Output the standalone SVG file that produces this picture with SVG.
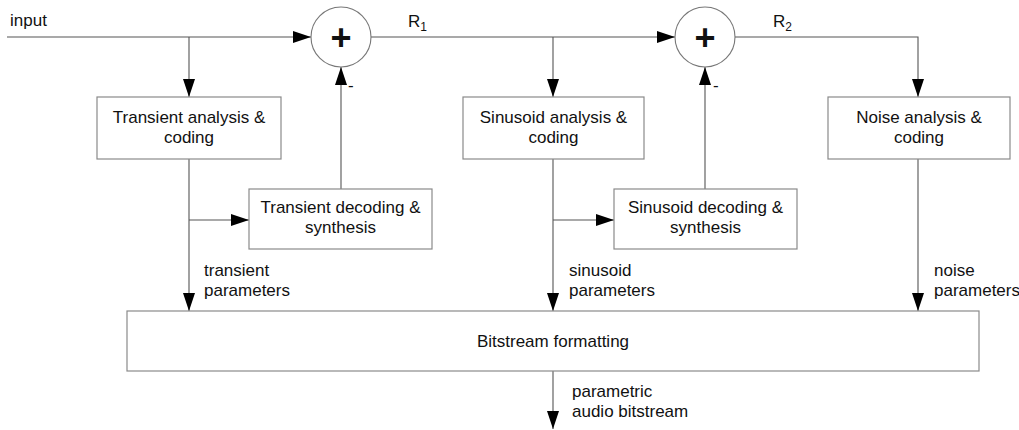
<svg xmlns="http://www.w3.org/2000/svg" width="1019" height="430" viewBox="0 0 1019 430">
<defs>
<style>
text{font-family:"Liberation Sans",Arial,sans-serif;font-size:17px;fill:#111}
.c{text-anchor:middle}
.box{fill:#fff;stroke:#8a8a8a;stroke-width:1.2}
.ln{fill:none;stroke:#555;stroke-width:1.1}
.plus{font-size:36px;font-weight:bold;text-anchor:middle}
.sum{fill:#fff;stroke:#777;stroke-width:1.1}
</style>
<marker id="ah" markerUnits="userSpaceOnUse" markerWidth="18" markerHeight="12" refX="18" refY="6" orient="auto">
<path d="M0,0 L18,6 L0,12 z" fill="#000"/>
</marker>
</defs>
<g id="connectors">
<path class="ln" d="M7,37 H311" marker-end="url(#ah)"/>
<path class="ln" d="M189,37 V97" marker-end="url(#ah)"/>
<path class="ln" d="M189,159 V311" marker-end="url(#ah)"/>
<path class="ln" d="M189,220 H249" marker-end="url(#ah)"/>
<path class="ln" d="M341,189 V67" marker-end="url(#ah)"/>
<path class="ln" d="M371,37 H675" marker-end="url(#ah)"/>
<path class="ln" d="M553,37 V97" marker-end="url(#ah)"/>
<path class="ln" d="M553,159 V311" marker-end="url(#ah)"/>
<path class="ln" d="M553,220 H614" marker-end="url(#ah)"/>
<path class="ln" d="M705,189 V67" marker-end="url(#ah)"/>
<path class="ln" d="M735,37 H918 V97" marker-end="url(#ah)"/>
<path class="ln" d="M918,159 V311" marker-end="url(#ah)"/>
<path class="ln" d="M553,371 V429" marker-end="url(#ah)"/>
<text x="10" y="26">input</text>
<text x="408" y="27">R<tspan font-size="12" dy="4">1</tspan></text>
<text x="773" y="27">R<tspan font-size="12" dy="4">2</tspan></text>
<text x="348" y="91">-</text>
<text x="713" y="91">-</text>
<text x="204" y="276">transient</text>
<text x="204" y="296">parameters</text>
<text x="569" y="276">sinusoid</text>
<text x="569" y="296">parameters</text>
<text x="934" y="276">noise</text>
<text x="934" y="296">parameters</text>
<text x="572" y="397">parametric</text>
<text x="572" y="417">audio bitstream</text>
</g>
<g id="sum1">
<circle class="sum" cx="341" cy="37" r="30"/>
<text class="plus" x="341" y="50">+</text>
</g>
<g id="sum2">
<circle class="sum" cx="705" cy="37" r="30"/>
<text class="plus" x="705" y="50">+</text>
</g>
<g id="transient-analysis">
<rect class="box" x="97" y="97" width="184" height="62"/>
<text class="c" x="189" y="123">Transient analysis &amp;</text>
<text class="c" x="189" y="143">coding</text>
</g>
<g id="transient-decoding">
<rect class="box" x="249" y="189" width="183" height="60"/>
<text class="c" x="340.5" y="213">Transient decoding &amp;</text>
<text class="c" x="340.5" y="233">synthesis</text>
</g>
<g id="sinusoid-analysis">
<rect class="box" x="463" y="97" width="181" height="62"/>
<text class="c" x="553.5" y="123">Sinusoid analysis &amp;</text>
<text class="c" x="553.5" y="143">coding</text>
</g>
<g id="sinusoid-decoding">
<rect class="box" x="614" y="189" width="183" height="60"/>
<text class="c" x="705.5" y="213">Sinusoid decoding &amp;</text>
<text class="c" x="705.5" y="233">synthesis</text>
</g>
<g id="noise-analysis">
<rect class="box" x="828" y="97" width="182" height="62"/>
<text class="c" x="919" y="123">Noise analysis &amp;</text>
<text class="c" x="919" y="143">coding</text>
</g>
<g id="bitstream">
<rect class="box" x="127" y="311" width="852" height="60"/>
<text class="c" x="553" y="347">Bitstream formatting</text>
</g>
</svg>
